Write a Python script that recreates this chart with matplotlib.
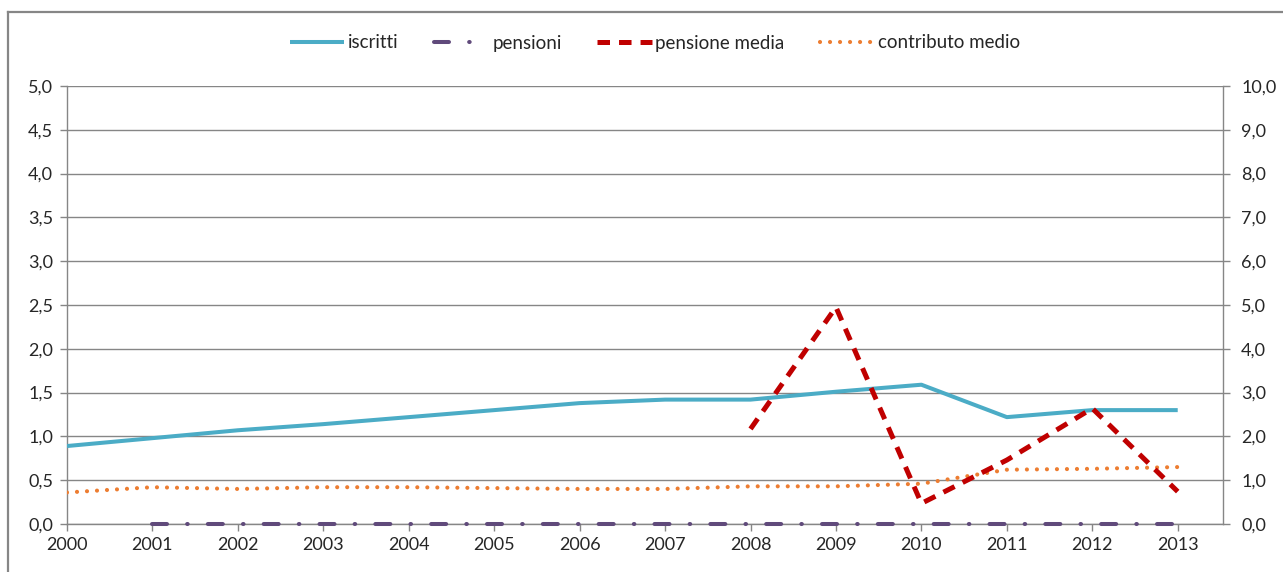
import matplotlib
matplotlib.use("Agg")
import matplotlib.pyplot as plt
from matplotlib.lines import Line2D
from matplotlib.ticker import FuncFormatter, MultipleLocator

plt.rcParams['font.family'] = ['Lato', 'DejaVu Sans']
plt.rcParams['lines.scale_dashes'] = False

years = [2000, 2001, 2002, 2003, 2004, 2005, 2006, 2007, 2008, 2009, 2010, 2011, 2012, 2013]
iscritti = [0.89, 0.98, 1.07, 1.14, 1.22, 1.30, 1.38, 1.42, 1.42, 1.51, 1.59, 1.22, 1.30, 1.30]
pensioni_years = [2001, 2002, 2003, 2004, 2005, 2006, 2007, 2008, 2009, 2010, 2011, 2012, 2013]
pensioni = [0, 0, 0, 0, 0, 0, 0, 0, 0, 0, 0, 0, 0]
pm_years = [2008, 2009, 2010, 2011, 2012, 2013]
pensione_media = [2.17, 4.95, 0.47, 1.46, 2.64, 0.74]  # right axis
contributo_medio = [0.36, 0.42, 0.40, 0.42, 0.42, 0.41, 0.40, 0.40, 0.43, 0.43, 0.46, 0.62, 0.63, 0.65]

W, H = 1283, 572
fig = plt.figure(figsize=(W / 100, H / 100), dpi=100)
ax = fig.add_axes([67 / W, 1 - 524 / H, (1223 - 67) / W, (524 - 86) / H])
ax2 = ax.twinx()

grid_c = '#868686'
txt_c = '#262626'

ax.set_xlim(2000, 2013.53)
ax.set_ylim(0, 5)
ax2.set_ylim(0, 10)
ax.yaxis.set_major_locator(MultipleLocator(0.5))
ax2.yaxis.set_major_locator(MultipleLocator(1.0))
ax.set_xticks(years)
ax.set_xticklabels([str(y) for y in years])
fmt = FuncFormatter(lambda v, p: f"{v:.1f}".replace('.', ','))
ax.yaxis.set_major_formatter(fmt)
ax2.yaxis.set_major_formatter(fmt)

ax.grid(axis='y', color=grid_c, lw=1.0)
ax.set_axisbelow(True)
for a in (ax, ax2):
    for s in a.spines.values():
        s.set_color(grid_c)
        s.set_linewidth(1.0)
    a.spines['top'].set_visible(False)
ax2.spines['left'].set_visible(False)
ax.spines['right'].set_visible(False)
ax2.spines['bottom'].set_visible(False)

ax.tick_params(axis='both', colors=grid_c, labelcolor=txt_c, labelsize=13, length=5, width=1, direction='out')
ax2.tick_params(axis='y', colors=grid_c, labelcolor=txt_c, labelsize=13, length=5, width=1, direction='out')
ax.tick_params(axis='x', pad=4)
ax.tick_params(axis='y', pad=5)
ax2.tick_params(axis='y', pad=8)

l1, = ax.plot(years, iscritti, color='#4BACC6', lw=2.9, solid_joinstyle='round', solid_capstyle='butt', label='iscritti', zorder=3)
l2, = ax.plot(pensioni_years, pensioni, color='#604A7B', lw=2.9, dashes=(10.8, 14.5, 0.4, 14.5), dash_capstyle='round', label='pensioni', zorder=3, clip_on=False)
l3, = ax2.plot(pm_years, pensione_media, color='#C00000', lw=3.6, dashes=(9, 6.5), dash_capstyle='butt', label='pensione media', zorder=3)
l4, = ax.plot(years, contributo_medio, color='#ED7D31', lw=3.0, dashes=(0.01, 7.2), dash_capstyle='round', label='contributo medio', zorder=3)

handles = [l1, l2, l3, l4]
labels = [h.get_label() for h in handles]
leg = fig.legend(handles, labels, loc='center', bbox_to_anchor=(655 / W, 1 - 43 / H), ncol=4,
                 frameon=False, fontsize=13.5, handlelength=2.9, columnspacing=1.9, handletextpad=0.2)
for t in leg.get_texts():
    t.set_color(txt_c)

# outer chart border
fig.add_artist(Line2D([8 / W, 8 / W], [0, 1 - 12 / H], transform=fig.transFigure, color=grid_c, lw=1.6))
fig.add_artist(Line2D([8 / W, 1], [1 - 12 / H, 1 - 12 / H], transform=fig.transFigure, color=grid_c, lw=1.6))

fig.savefig('out.png', dpi=100)
